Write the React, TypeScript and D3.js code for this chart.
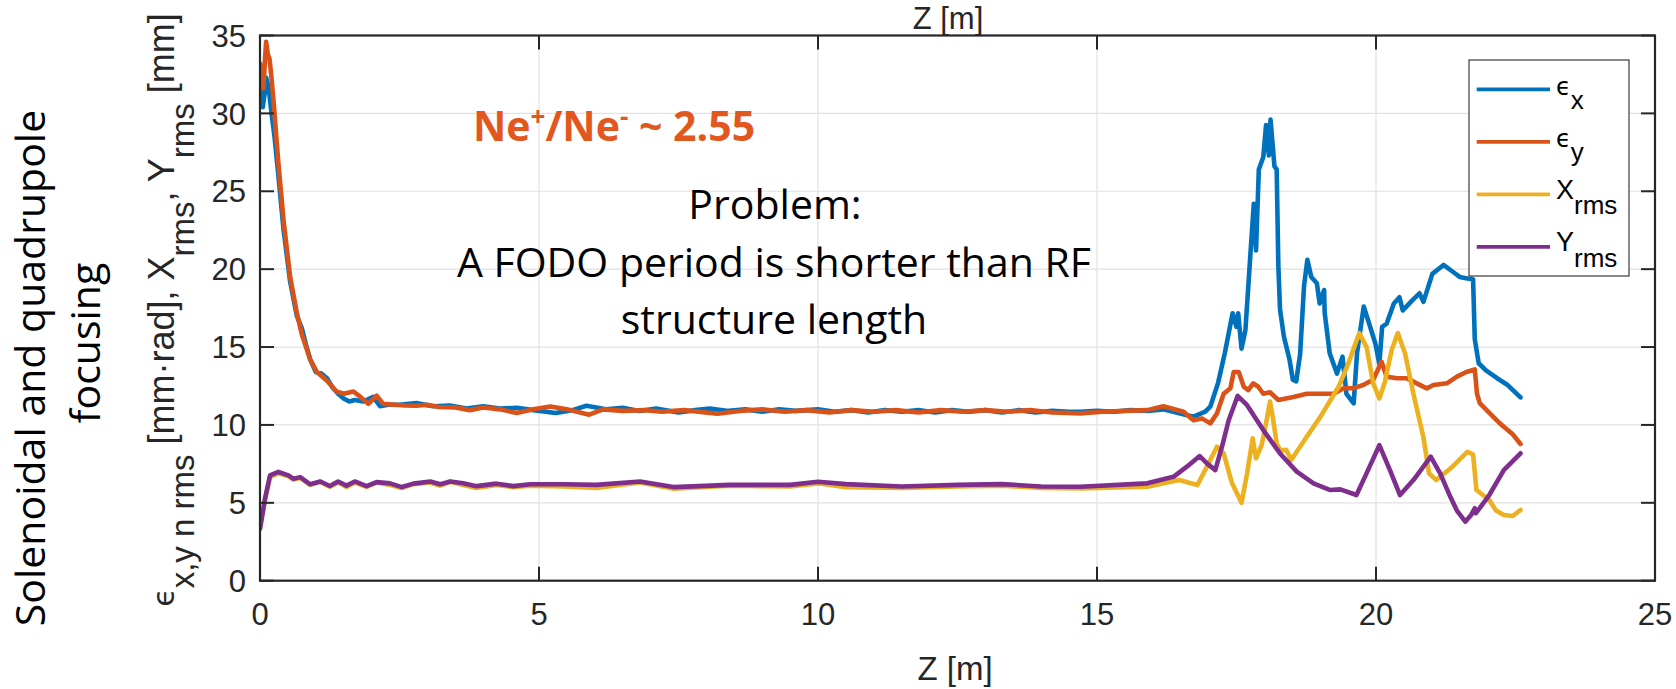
import React from "react";
import * as d3 from "d3";

const W = 1676;
const H = 689;
const PLOT = { left: 260, right: 1655, top: 35.5, bottom: 580.7 };

const xTicks = [0, 5, 10, 15, 20, 25];
const yTicks = [0, 5, 10, 15, 20, 25, 30, 35];

// epsilon_x  [z (m), value]
const epsX: [number, number][] = [
  [0, 32.7], [0.03, 31.5], [0.05, 30.4], [0.08, 31.2], [0.11, 32.3], [0.15, 31.8], [0.2, 30.2],
  [0.26, 28.5], [0.33, 26.0], [0.42, 22.6], [0.54, 19.2], [0.66, 17.0], [0.75, 16.2], [0.82, 15.2],
  [0.9, 14.2], [1.0, 13.4], [1.1, 13.3], [1.2, 13.0], [1.3, 12.4], [1.4, 12.0], [1.5, 11.7],
  [1.6, 11.5], [1.7, 11.6], [1.85, 11.5], [2.03, 11.8], [2.15, 11.2], [2.3, 11.3], [2.5, 11.3],
  [2.8, 11.4], [3.1, 11.2], [3.4, 11.25], [3.7, 11.05], [4.0, 11.2], [4.3, 11.05], [4.6, 11.1],
  [4.9, 10.95], [5.3, 10.77], [5.6, 10.95], [5.85, 11.23], [6.2, 11.0], [6.5, 11.1], [6.8, 10.9],
  [7.1, 11.05], [7.5, 10.8], [7.8, 10.95], [8.06, 11.05], [8.4, 10.9], [8.7, 11.0], [9.0, 10.85],
  [9.3, 11.0], [9.6, 10.9], [10.0, 11.0], [10.3, 10.85], [10.6, 10.95], [10.9, 10.8], [11.2, 10.95],
  [11.5, 10.85], [11.8, 10.95], [12.1, 10.8], [12.4, 10.95], [12.7, 10.85], [13.0, 10.95],
  [13.3, 10.8], [13.6, 10.95], [13.9, 10.8], [14.2, 10.9], [14.5, 10.85], [14.7, 10.85],
  [15.0, 10.9], [15.3, 10.85], [15.6, 10.95], [15.9, 10.9], [16.19, 11.0], [16.49, 10.74],
  [16.73, 10.53], [16.94, 10.85], [17.03, 11.17], [17.17, 12.7], [17.29, 14.6], [17.43, 17.17],
  [17.5, 16.3], [17.53, 17.17], [17.59, 14.9], [17.66, 16.1], [17.75, 21.0], [17.81, 24.2],
  [17.85, 21.2], [17.9, 26.4], [17.98, 27.2], [18.03, 29.25], [18.08, 27.3], [18.11, 29.6],
  [18.18, 26.6], [18.22, 26.4], [18.25, 20.2], [18.28, 17.4], [18.35, 15.66], [18.45, 14.2],
  [18.51, 12.9], [18.57, 12.8], [18.64, 14.55], [18.71, 18.9], [18.77, 20.6], [18.84, 19.5],
  [18.94, 19.1], [18.99, 17.8], [19.07, 18.66], [19.08, 17.2], [19.17, 14.6], [19.3, 13.3],
  [19.4, 14.38], [19.47, 12.0], [19.6, 11.39], [19.66, 14.6], [19.78, 17.6], [19.93, 15.9],
  [19.99, 15.2], [20.06, 13.9], [20.11, 16.3], [20.19, 16.5], [20.32, 17.8], [20.42, 18.2],
  [20.48, 17.35], [20.65, 18.0], [20.78, 18.45], [20.85, 17.9], [21.01, 19.7], [21.21, 20.27],
  [21.37, 19.85], [21.5, 19.5], [21.64, 19.4], [21.74, 19.35], [21.77, 15.5], [21.84, 13.96],
  [21.97, 13.5], [22.17, 13.0], [22.36, 12.56], [22.59, 11.77],
];

// epsilon_y
const epsY: [number, number][] = [
  [0, 33.2], [0.03, 32.5], [0.06, 31.6], [0.09, 33.5], [0.11, 34.6], [0.14, 33.8], [0.17, 33.5],
  [0.2, 32.5], [0.24, 30.9], [0.33, 26.8], [0.42, 23.2], [0.54, 19.5], [0.66, 17.2], [0.75, 15.8],
  [0.9, 14.2], [1.02, 13.4], [1.2, 12.84], [1.37, 12.15], [1.5, 12.0], [1.67, 12.15], [1.8, 11.8],
  [1.94, 11.35], [2.09, 11.88], [2.21, 11.35], [2.4, 11.3], [2.6, 11.25], [2.8, 11.23], [3.0, 11.3],
  [3.2, 11.15], [3.5, 11.12], [3.76, 10.95], [4.0, 11.12], [4.3, 11.0], [4.6, 10.77], [4.9, 11.0],
  [5.2, 11.18], [5.5, 11.0], [5.9, 10.66], [6.15, 11.0], [6.5, 10.9], [6.9, 10.95], [7.2, 10.85],
  [7.6, 10.95], [8.2, 10.72], [8.6, 10.9], [9.0, 11.0], [9.4, 10.85], [9.8, 10.95], [10.2, 10.8],
  [10.6, 10.95], [11.0, 10.85], [11.4, 10.95], [11.8, 10.8], [12.2, 10.95], [12.6, 10.85],
  [13.0, 10.95], [13.4, 10.85], [13.8, 10.95], [14.2, 10.8], [14.7, 10.74], [15.1, 10.85],
  [15.5, 10.9], [15.9, 10.95], [16.19, 11.2], [16.55, 10.85], [16.73, 10.3], [16.88, 10.42],
  [17.03, 10.1], [17.15, 10.74], [17.27, 12.0], [17.39, 12.35], [17.45, 13.4], [17.54, 13.4],
  [17.63, 12.45], [17.71, 12.24], [17.8, 12.67], [17.89, 12.45], [17.98, 12.0], [18.1, 12.1],
  [18.25, 11.6], [18.52, 11.8], [18.76, 12.0], [19.0, 12.0], [19.24, 12.0], [19.42, 12.35],
  [19.59, 12.35], [19.77, 12.56], [19.95, 12.9], [20.1, 14.05], [20.19, 13.1], [20.37, 13.0],
  [20.55, 13.0], [20.73, 12.67], [20.91, 12.35], [21.03, 12.56], [21.27, 12.67], [21.45, 13.1],
  [21.62, 13.4], [21.77, 13.56], [21.81, 12.0], [21.86, 11.4], [22.04, 10.74], [22.22, 10.1],
  [22.29, 9.89], [22.45, 9.4], [22.59, 8.78],
];

// X_rms
const xRms: [number, number][] = [
  [0, 3.4], [0.09, 5.2], [0.18, 6.65], [0.33, 6.9], [0.51, 6.7], [0.6, 6.5], [0.72, 6.6],
  [0.9, 6.15], [1.08, 6.35], [1.25, 6.03], [1.4, 6.3], [1.55, 6.02], [1.7, 6.3], [1.91, 6.02],
  [2.09, 6.3], [2.33, 6.15], [2.54, 5.95], [2.75, 6.2], [3.05, 6.3], [3.23, 6.1], [3.41, 6.35],
  [3.64, 6.15], [3.88, 5.95], [4.24, 6.15], [4.54, 6.0], [4.84, 6.1], [5.44, 6.05], [6.03, 5.95],
  [6.81, 6.3], [7.41, 5.9], [8.42, 6.1], [9.5, 6.05], [10.0, 6.25], [10.5, 6.0], [11.5, 5.95],
  [12.5, 6.05], [13.3, 6.1], [14.0, 5.95], [14.7, 5.93], [15.9, 6.03], [16.47, 6.46], [16.8, 6.14],
  [16.97, 7.32], [17.15, 8.6], [17.27, 8.17], [17.42, 6.25], [17.59, 5.0], [17.69, 6.89],
  [17.79, 9.14], [17.85, 7.86], [17.95, 8.7], [18.04, 10.3], [18.1, 11.5], [18.15, 10.5],
  [18.22, 8.8], [18.29, 8.35], [18.39, 8.4], [18.48, 7.75], [18.74, 9.14], [19.0, 10.5],
  [19.33, 12.45], [19.51, 14.0], [19.7, 15.9], [19.83, 15.0], [19.95, 12.67], [20.06, 11.7],
  [20.16, 12.77], [20.28, 14.8], [20.39, 15.9], [20.52, 14.6], [20.67, 12.0], [20.85, 9.2],
  [20.95, 6.9], [21.08, 6.46], [21.37, 7.32], [21.64, 8.28], [21.74, 8.1], [21.8, 5.82],
  [22.03, 5.18], [22.15, 4.5], [22.29, 4.22], [22.45, 4.15], [22.59, 4.54],
];

// Y_rms
const yRms: [number, number][] = [
  [0, 3.32], [0.09, 5.27], [0.18, 6.76], [0.33, 6.99], [0.51, 6.76], [0.6, 6.54], [0.72, 6.65],
  [0.9, 6.19], [1.08, 6.37], [1.25, 6.08], [1.4, 6.37], [1.55, 6.1], [1.7, 6.37], [1.91, 6.07],
  [2.09, 6.33], [2.33, 6.25], [2.54, 6.01], [2.75, 6.23], [3.05, 6.37], [3.23, 6.19], [3.41, 6.37],
  [3.64, 6.25], [3.88, 6.07], [4.24, 6.23], [4.54, 6.07], [4.84, 6.19], [5.44, 6.19], [6.03, 6.15],
  [6.81, 6.37], [7.41, 6.01], [8.42, 6.15], [9.5, 6.15], [10.0, 6.35], [10.5, 6.2], [11.5, 6.05],
  [12.5, 6.15], [13.3, 6.2], [14.0, 6.05], [14.7, 6.03], [15.9, 6.25], [16.37, 6.67], [16.61, 7.32],
  [16.84, 8.0], [16.97, 7.53], [17.12, 7.1], [17.24, 8.6], [17.36, 10.3], [17.52, 11.86],
  [17.69, 11.27], [17.98, 9.67], [18.28, 8.17], [18.58, 7.0], [18.88, 6.25], [19.18, 5.82],
  [19.36, 5.86], [19.65, 5.5], [19.83, 6.89], [20.06, 8.7], [20.25, 7.1], [20.43, 5.5],
  [20.67, 6.46], [20.85, 7.32], [20.98, 7.96], [21.15, 6.89], [21.33, 5.4], [21.45, 4.5],
  [21.6, 3.79], [21.7, 4.2], [21.77, 4.65], [21.79, 4.33], [22.03, 5.5], [22.29, 7.1], [22.59, 8.18],
];

const COLORS = ["#0072BD", "#D95319", "#EDB120", "#7E2F8E"];
const AX = "#262626";
const SANS = "'Liberation Sans', Arial, Helvetica, sans-serif";
const EPS = "'DejaVu Sans', sans-serif";
const NOTE = "'Open Sans', 'Noto Sans', sans-serif";

export default function App() {
  const x = d3.scaleLinear().domain([0, 25]).range([PLOT.left, PLOT.right]);
  const y = d3.scaleLinear().domain([0, 35]).range([PLOT.bottom, PLOT.top]);
  const line = d3
    .line<[number, number]>()
    .x((d) => x(d[0]))
    .y((d) => y(d[1]));

  const series = [epsX, epsY, xRms, yRms];
  const tickLen = 14;

  const legendX = 1469;
  const legendY = 60;
  const legendRows = [
    { main: "ϵ", sub: "x", eps: true },
    { main: "ϵ", sub: "y", eps: true },
    { main: "X", sub: "rms", eps: false },
    { main: "Y", sub: "rms", eps: false },
  ];

  return (
    <svg
      width={W}
      height={H}
      style={{ position: "absolute", left: 0, top: 0, background: "#fff" }}
    >
      <defs>
        <clipPath id="plotclip">
          <rect
            x={PLOT.left}
            y={PLOT.top}
            width={PLOT.right - PLOT.left}
            height={PLOT.bottom - PLOT.top}
          />
        </clipPath>
      </defs>
      <rect x={0} y={0} width={W} height={H} fill="#fff" />

      {/* grid */}
      {xTicks.slice(1, -1).map((t) => (
        <line key={"gx" + t} x1={x(t)} x2={x(t)} y1={PLOT.top} y2={PLOT.bottom} stroke="#e1e1e1" strokeWidth={1.2} />
      ))}
      {yTicks.slice(1, -1).map((t) => (
        <line key={"gy" + t} x1={PLOT.left} x2={PLOT.right} y1={y(t)} y2={y(t)} stroke="#e1e1e1" strokeWidth={1.2} />
      ))}

      {/* data */}
      <g clipPath="url(#plotclip)">
        {series.map((s, i) => (
          <path
            key={i}
            d={line(s) || ""}
            fill="none"
            stroke={COLORS[i]}
            strokeWidth={4.6}
            strokeLinejoin="round"
            strokeLinecap="round"
          />
        ))}
      </g>

      {/* ticks */}
      {xTicks.map((t) => (
        <g key={"tx" + t}>
          <line x1={x(t)} x2={x(t)} y1={PLOT.bottom} y2={PLOT.bottom - tickLen} stroke={AX} strokeWidth={2} />
          <line x1={x(t)} x2={x(t)} y1={PLOT.top} y2={PLOT.top + tickLen} stroke={AX} strokeWidth={2} />
          <text x={x(t)} y={625} textAnchor="middle" fontFamily={SANS} fontSize={31} fill={AX}>
            {t}
          </text>
        </g>
      ))}
      {yTicks.map((t) => (
        <g key={"ty" + t}>
          <line x1={PLOT.left} x2={PLOT.left + tickLen} y1={y(t)} y2={y(t)} stroke={AX} strokeWidth={2} />
          <line x1={PLOT.right} x2={PLOT.right - tickLen} y1={y(t)} y2={y(t)} stroke={AX} strokeWidth={2} />
          <text x={246} y={y(t)} dy="0.36em" textAnchor="end" fontFamily={SANS} fontSize={31} fill={AX}>
            {t}
          </text>
        </g>
      ))}

      {/* axes box */}
      <rect
        x={PLOT.left}
        y={PLOT.top}
        width={PLOT.right - PLOT.left}
        height={PLOT.bottom - PLOT.top}
        fill="none"
        stroke={AX}
        strokeWidth={2.2}
      />

      {/* axis labels */}
      <text x={955} y={680} textAnchor="middle" fontFamily={SANS} fontSize={33} fill={AX}>
        Z [m]
      </text>
      <text x={948} y={29} textAnchor="middle" fontFamily={SANS} fontSize={31} fill={AX}>
        Z [m]
      </text>

      <g transform="translate(174,310) rotate(-90)">
        <text textAnchor="middle" fontFamily={SANS} fontSize={36} fill={AX}>
          <tspan fontFamily={EPS} fontSize={30}>ϵ</tspan>
          <tspan dy={20} fontSize={33}>x,y n rms</tspan>
          <tspan dy={-20}> [mm·rad], X</tspan>
          <tspan dy={20} fontSize={33}>rms</tspan>
          <tspan dy={-20}>, Y</tspan>
          <tspan dy={20} fontSize={33}>rms</tspan>
          <tspan dy={-20}> [mm]</tspan>
        </text>
      </g>

      {/* left rotated caption */}
      <g transform="translate(45,368) rotate(-90)">
        <text textAnchor="middle" fontFamily={NOTE} fontSize={41} fill="#000">
          Solenoidal and quadrupole
        </text>
      </g>
      <g transform="translate(100,343) rotate(-90)">
        <text textAnchor="middle" fontFamily={NOTE} fontSize={41} fill="#000">
          focusing
        </text>
      </g>

      {/* annotations */}
      <text x={473} y={141} fontFamily={NOTE} fontSize={41} fontWeight="bold" fill="#E2571E">
        Ne
        <tspan dy={-15} fontSize={26}>+</tspan>
        <tspan dy={15}>/Ne</tspan>
        <tspan dy={-15} fontSize={26}>-</tspan>
        <tspan dy={15}> ~ 2.55</tspan>
      </text>
      <text x={775} y={219} textAnchor="middle" fontFamily={NOTE} fontSize={41} fill="#000">
        Problem:
      </text>
      <text x={774} y={277} textAnchor="middle" fontFamily={NOTE} fontSize={41} fill="#000">
        A FODO period is shorter than RF
      </text>
      <text x={774} y={334} textAnchor="middle" fontFamily={NOTE} fontSize={41} fill="#000">
        structure length
      </text>

      {/* legend */}
      <rect x={legendX} y={legendY} width={160} height={216} fill="#fff" stroke="#3a3a3a" strokeWidth={1.2} />
      {legendRows.map((r, i) => {
        const ly = 89.3 + i * 52.5;
        return (
          <g key={"lg" + i}>
            <line x1={1476.7} x2={1550} y1={ly} y2={ly} stroke={COLORS[i]} strokeWidth={3.8} />
            <text x={1556} y={ly + (r.eps ? 5.5 : 4.5)} fontFamily={SANS} fontSize={27} fill="#000">
              <tspan fontFamily={r.eps ? EPS : SANS} fontSize={r.eps ? 24 : 27}>{r.main}</tspan>
              <tspan dy={r.eps ? 14 : 15.5} fontSize={26}>
                {r.sub}
              </tspan>
            </text>
          </g>
        );
      })}
    </svg>
  );
}
